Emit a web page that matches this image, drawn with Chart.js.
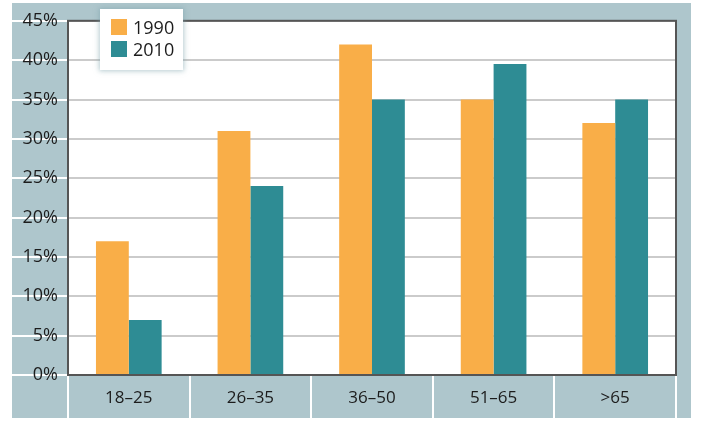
<!DOCTYPE html>
<html>
<head>
<meta charset="utf-8">
<script src="https://cdn.jsdelivr.net/npm/chart.js@4"></script>
<style>
  body { margin: 0; background: #fff; }
  #wrap { position: relative; width: 706px; height: 430px; }
  #legend {
    position: absolute; left: 100px; top: 9px; width: 83px; height: 61px;
    background: #fff; box-shadow: 0 0 5px 1px rgba(120, 160, 170, 0.55);
    font-family: "Open Sans", sans-serif; font-size: 18px; color: #1c1c1c;
  }
  .item { position: absolute; left: 11px; height: 17px; line-height: 17px; }
  .item span { display: inline-block; width: 16px; height: 16px; vertical-align: top; margin-right: 6px; }
</style>
</head>
<body>
<div id="wrap">
  <canvas id="chart" width="706" height="430"></canvas>
  <div id="legend">
    <div class="item" style="top: 10px;"><span style="background:#f9ae48"></span>1990</div>
    <div class="item" style="top: 32px;"><span style="background:#2e8c94"></span>2010</div>
  </div>
</div>
<script>
const categories = ['18–25', '26–35', '36–50', '51–65', '>65'];
const values1990 = [17, 31, 42, 35, 32];
const values2010 = [7, 24, 35, 39.5, 35];
const yTicks = [0, 5, 10, 15, 20, 25, 30, 35, 40, 45];

const frameBlue = '#aec6cc';

// blue frame, white ticks in the margins
const backdrop = {
    id: 'backdrop',
    beforeDraw(chart) {
        const ctx = chart.ctx;
        const area = chart.chartArea;
        const y = chart.scales.y;
        ctx.save();
        ctx.fillStyle = frameBlue;
        ctx.fillRect(12, 3, 679, 415);
        ctx.fillStyle = '#fff';
        ctx.fillRect(area.left, area.top, area.right - area.left, area.bottom - area.top);
        ctx.strokeStyle = '#fff';
        ctx.lineWidth = 2;
        yTicks.forEach(function (t) {
            const py = Math.round(y.getPixelForValue(t));
            ctx.beginPath();
            ctx.moveTo(12, py);
            ctx.lineTo(area.left, py);
            ctx.stroke();
        });
        const step = (area.right - area.left) / categories.length;
        for (let i = 0; i <= categories.length; i++) {
            const px = Math.round(area.left + i * step);
            ctx.beginPath();
            ctx.moveTo(px, area.bottom);
            ctx.lineTo(px, 418);
            ctx.stroke();
        }
        ctx.restore();
    },
    afterDatasetsDraw(chart) {
        const ctx = chart.ctx;
        const a = chart.chartArea;
        ctx.save();
        ctx.strokeStyle = '#555';
        ctx.lineWidth = 2;
        ctx.strokeRect(a.left, a.top, a.right - a.left, a.bottom - a.top);
        ctx.restore();
    }
};

new Chart(document.getElementById('chart'), {
    type: 'bar',
    data: {
        labels: categories,
        datasets: [{
            label: '1990',
            data: values1990,
            backgroundColor: '#f9ae48'
        }, {
            label: '2010',
            data: values2010,
            backgroundColor: '#2e8c94'
        }]
    },
    options: {
        responsive: false,
        animation: false,
        layout: { padding: { left: 0, top: 17, right: 30, bottom: 12 } },
        plugins: { legend: { display: false }, tooltip: { enabled: false } },
        datasets: { bar: { categoryPercentage: 0.54, barPercentage: 1 } },
        scales: {
            x: {
                afterFit: function (s) { s.height = 43; },
                grid: { display: false },
                border: { display: false },
                ticks: { padding: 5, color: '#1c1c1c', font: { family: 'Open Sans', size: 17 } }
            },
            y: {
                min: 0,
                max: 45,
                afterFit: function (s) { s.width = 68; },
                afterBuildTicks: function (s) { s.ticks = yTicks.map(v => ({ value: v })); },
                grid: { color: '#cbcbcb', lineWidth: 2, drawTicks: false },
                border: { display: false },
                ticks: {
                    padding: 10,
                    color: '#1c1c1c',
                    font: { family: 'Open Sans', size: 18 },
                    callback: v => v + '%'
                }
            }
        }
    },
    plugins: [backdrop]
});
</script>
</body>
</html>
